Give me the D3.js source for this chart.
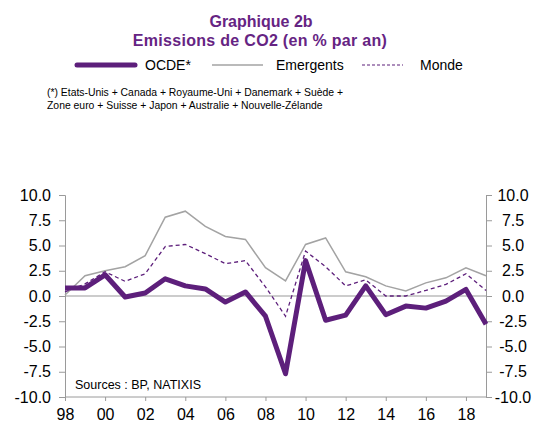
<!DOCTYPE html>
<html>
<head>
<meta charset="utf-8">
<script src="https://cdn.jsdelivr.net/npm/d3@7"></script>
<style>
  body { margin: 0; background: #fff; }
  svg { font-family: "Liberation Sans", Arial, sans-serif; }
</style>
</head>
<body>
<svg width="540" height="424"></svg>
<script>
var years = [1998, 1999, 2000, 2001, 2002, 2003, 2004, 2005, 2006, 2007, 2008,
             2009, 2010, 2011, 2012, 2013, 2014, 2015, 2016, 2017, 2018, 2019];
var ocde = [0.8, 0.8, 2.1, -0.1, 0.3, 1.7, 1.0, 0.7, -0.6, 0.4, -2.0,
            -7.7, 3.5, -2.4, -1.9, 1.0, -1.85, -1.0, -1.2, -0.5, 0.65, -2.8];
var emergents = [0.1, 2.0, 2.5, 2.9, 4.0, 7.8, 8.4, 6.9, 5.9, 5.6, 2.8,
                 1.5, 5.1, 5.75, 2.4, 1.9, 1.0, 0.5, 1.3, 1.8, 2.8, 2.0];
var monde = [0.4, 1.2, 2.4, 1.45, 2.2, 4.9, 5.1, 4.2, 3.2, 3.5, 0.9,
             -2.0, 4.45, 2.9, 1.0, 1.6, 0.0, 0.0, 0.55, 1.15, 2.2, 0.55];
var yTicks = [-10, -7.5, -5, -2.5, 0, 2.5, 5, 7.5, 10];
var xTicks = [1998, 2000, 2002, 2004, 2006, 2008, 2010, 2012, 2014, 2016, 2018];

var purple = "#5d1f7b",
    titleColor = "#662483",
    grey = "#a3a3a3",
    axisColor = "#9a9a9a";

var svg = d3.select("svg");

var xScale = d3.scaleLinear().domain([1998, 2019]).range([65, 486]),
    yScale = d3.scaleLinear().domain([-10, 10]).range([397, 195]);

// titre
svg.append("text")
    .attr("x", 261).attr("y", 27)
    .attr("text-anchor", "middle")
    .attr("font-size", "16px").attr("font-weight", "bold")
    .attr("fill", titleColor)
    .text("Graphique 2b");
svg.append("text")
    .attr("x", 260).attr("y", 46)
    .attr("text-anchor", "middle")
    .attr("font-size", "16px").attr("font-weight", "bold")
    .attr("letter-spacing", "0.3px")
    .attr("fill", titleColor)
    .text("Emissions de CO2 (en % par an)");

// legende
var legend = [
    {name: "OCDE*", x1: 77, x2: 135, tx: 145, color: purple, w: 5, dash: null},
    {name: "Emergents", x1: 212, x2: 263, tx: 276, color: grey, w: 1.5, dash: null},
    {name: "Monde", x1: 362, x2: 403, tx: 420, color: purple, w: 1.2, dash: "3,2"}
];
legend.forEach(function(l) {
    svg.append("line")
        .attr("x1", l.x1).attr("x2", l.x2)
        .attr("y1", 65).attr("y2", 65)
        .attr("stroke", l.color)
        .attr("stroke-width", l.w)
        .attr("stroke-linecap", l.w > 3 ? "round" : "butt")
        .attr("stroke-dasharray", l.dash);
    svg.append("text")
        .attr("x", l.tx).attr("y", 70)
        .attr("font-size", "14px")
        .text(l.name);
});

svg.append("text")
    .attr("x", 47).attr("y", 96)
    .attr("font-size", "10.4px")
    .text("(*) Etats-Unis + Canada + Royaume-Uni + Danemark + Suède +");
svg.append("text")
    .attr("x", 47).attr("y", 109)
    .attr("font-size", "10.4px")
    .text("Zone euro + Suisse + Japon + Australie + Nouvelle-Zélande");

// axes
var fmt = function(d) { return d.toFixed(1); };

var gLeft = svg.append("g")
    .attr("transform", "translate(65,0)")
    .call(d3.axisLeft(yScale).tickValues(yTicks).tickFormat(fmt).tickSize(6).tickPadding(8));

var gRight = svg.append("g")
    .attr("transform", "translate(486,0)")
    .call(d3.axisRight(yScale).tickValues(yTicks).tickFormat(fmt).tickSize(6).tickPadding(8));
gRight.selectAll("text")
    .attr("text-anchor", "middle")
    .attr("x", 27);

var gBottom = svg.append("g")
    .attr("transform", "translate(0,397)")
    .call(d3.axisBottom(xScale).tickValues(xTicks)
        .tickFormat(function(d) { return String(d).slice(2); })
        .tickSize(4).tickPadding(8));

[gLeft, gRight, gBottom].forEach(function(g) {
    g.select(".domain").attr("stroke", axisColor);
    g.selectAll(".tick line").attr("stroke", axisColor);
    g.selectAll("text")
        .attr("font-size", "16px")
        .attr("font-family", "Liberation Sans, Arial, sans-serif")
        .attr("fill", "#000");
});
gBottom.select(".domain").attr("d", "M65,0H486");

// ligne zero
svg.append("line")
    .attr("x1", xScale(1998)).attr("x2", xScale(2019))
    .attr("y1", yScale(0)).attr("y2", yScale(0))
    .attr("stroke", axisColor)
    .attr("stroke-width", 1.2);

svg.append("text")
    .attr("x", 75).attr("y", 389)
    .attr("font-size", "12.5px")
    .text("Sources  : BP, NATIXIS");

// series
var line = function(values) {
    return d3.line()
        .x(function(d, i) { return xScale(years[i]); })
        .y(function(d) { return yScale(d); })(values);
};

svg.append("path")
    .attr("d", line(emergents))
    .attr("fill", "none")
    .attr("stroke", grey)
    .attr("stroke-width", 1.5);

svg.append("path")
    .attr("d", line(monde))
    .attr("fill", "none")
    .attr("stroke", purple)
    .attr("stroke-width", 1.3)
    .attr("stroke-dasharray", "4,3");

svg.append("path")
    .attr("d", line(ocde))
    .attr("fill", "none")
    .attr("stroke", purple)
    .attr("stroke-width", 5)
    .attr("stroke-linejoin", "round");
</script>
</body>
</html>
